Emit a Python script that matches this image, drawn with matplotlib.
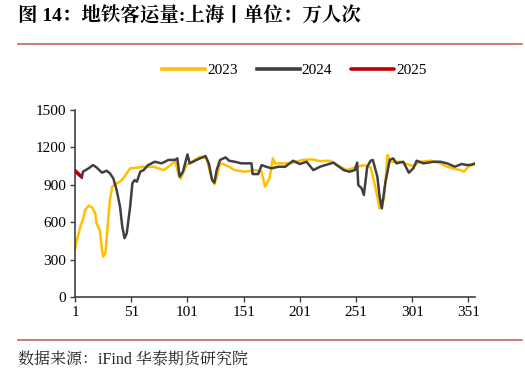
import matplotlib
matplotlib.use("Agg")
import matplotlib.pyplot as plt

days_2023 = [1, 3, 6, 8, 10, 13, 16, 19, 20, 23, 25, 26, 28, 30, 32, 34, 38, 41, 44, 47, 50, 56, 62, 71, 75, 80, 86, 90, 93, 95, 97, 100,
             106, 112, 118, 121, 123, 125, 127, 130, 133, 138, 143, 152, 161, 167, 170, 174, 177, 179, 183, 193, 203, 212, 219, 228,
             234, 243, 252, 258, 264, 267, 270, 272, 276, 279, 282, 290, 302, 308, 317, 326, 332, 340, 344, 347, 351, 357]
vals_2023 = [385, 470, 575, 620, 700, 732, 720, 670, 590, 537, 377, 323, 350, 564, 778, 885, 912, 925, 952, 992, 1032, 1037, 1045,
             1045, 1032, 1018, 1058, 1092, 985, 950, 990, 1058, 1090, 1125, 1115, 1000, 938, 905, 960, 1072, 1065, 1045, 1018, 1005,
             1018, 1005, 885, 950, 1112, 1072, 1072, 1072, 1099, 1104, 1090, 1093, 1058, 1018, 1045, 1058, 1040, 930, 804, 711, 790,
             1139, 1085, 1085, 1050, 1085, 1093, 1072, 1045, 1025, 1018, 1005, 1045, 1067]

days_2024 = [7, 8, 13, 17, 20, 25, 29, 32, 35, 38, 41, 43, 45, 47, 50, 52, 54, 56, 59, 62, 66, 72, 78, 84, 90, 92, 94, 97, 101, 103,
             109, 117, 120, 123, 125, 127, 130, 135, 138, 143, 149, 158, 159, 164, 167, 171, 176, 182, 188, 195, 201, 207, 213, 219,
             231, 240, 245, 250, 252, 253, 256, 258, 261, 264, 266, 270, 272, 274, 277, 281, 284, 287, 293, 298, 302, 305, 311, 320,
             326, 332, 339, 345, 350, 354, 357]
vals_2024 = [957, 1005, 1032, 1058, 1040, 997, 1013, 992, 952, 858, 724, 564, 471, 511, 724, 912, 938, 925, 1005, 1018, 1058, 1085,
             1072, 1099, 1100, 1112, 965, 1005, 1144, 1072, 1099, 1131, 1072, 938, 917, 1018, 1099, 1120, 1093, 1085, 1072, 1072,
             986, 986, 1058, 1045, 1032, 1045, 1045, 1093, 1067, 1085, 1018, 1045, 1078, 1018, 1005, 1018, 1078, 898, 872, 818, 1045,
             1093, 1099, 965, 804, 711, 912, 1099, 1112, 1072, 1085, 997, 1032, 1093, 1072, 1085, 1085, 1072, 1045, 1067, 1058, 1062,
             1072]

days_2025 = [1, 3, 6]
vals_2025 = [1013, 995, 970]

series_labels = ["2023", "2024", "2025"]
x_ticks = [1, 51, 101, 151, 201, 251, 301, 351]
y_ticks = [0, 300, 600, 900, 1200, 1500]

title = "图 14：地铁客运量:上海丨单位：万人次"
source = "数据来源：iFind 华泰期货研究院"

serif = ["Liberation Serif", "Noto Serif CJK SC", "Noto Sans CJK SC"]
fig = plt.figure(figsize=(5.25, 3.73), dpi=100)
ax = fig.add_axes([0.143, 0.204, 0.762, 0.501])

ax.plot(days_2023, vals_2023, color="#FFC000", lw=1.8, label=series_labels[0], solid_joinstyle="round")
ax.plot(days_2024, vals_2024, color="#404040", lw=1.8, label=series_labels[1], solid_joinstyle="round")
ax.plot(days_2025, vals_2025, color="#C00000", lw=2.6, label=series_labels[2], solid_capstyle="round")

ax.set_xlim(1, 357)
ax.set_ylim(0, 1500)
ax.set_xticks(x_ticks)
ax.set_yticks(y_ticks)
ax.spines["top"].set_visible(False)
ax.spines["right"].set_visible(False)
for s in ["left", "bottom"]:
    ax.spines[s].set_color("#404040")
    ax.spines[s].set_linewidth(1.2)
ax.tick_params(axis="both", direction="out", length=3.5, width=1.0, color="#404040",
               labelsize=11, labelcolor="black", pad=3)
for lab in ax.get_xticklabels() + ax.get_yticklabels():
    lab.set_family(serif)

leg = fig.legend(loc="center", bbox_to_anchor=(0.561, 0.812), ncol=3, frameon=False,
                 prop={"family": serif, "size": 11}, handlelength=2.8, handletextpad=0.15,
                 columnspacing=1.25)
for h in leg.get_lines():
    h.set_linewidth(2.6)

fig.text(0.034, 0.960, title, fontsize=14, fontweight="bold", family=serif, va="center", ha="left")
fig.add_artist(plt.Line2D([0.034, 0.995], [0.882, 0.882], color="#C86464", lw=1.2, transform=fig.transFigure))
fig.add_artist(plt.Line2D([0.034, 0.995], [0.088, 0.088], color="#C86464", lw=1.2, transform=fig.transFigure))
fig.text(0.034, 0.035, source, fontsize=11.5, family=serif, va="center", ha="left", color="#222222")

fig.savefig("out.png", dpi=100)
